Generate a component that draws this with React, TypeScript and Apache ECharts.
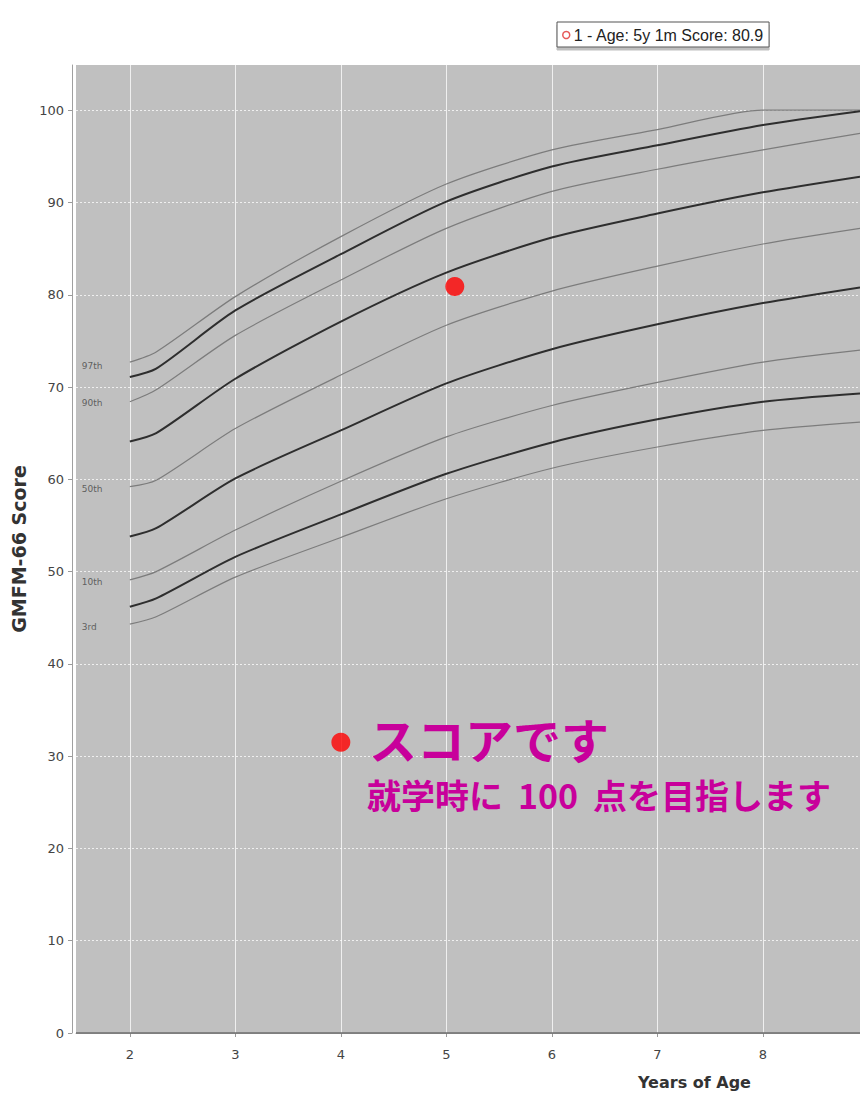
import React, { useEffect, useRef } from "react";
import * as echarts from "echarts";

// Age (years) at which the reference curves were read
const ages = [2, 2.25, 3, 4, 5, 6, 7, 8, 8.92];

// Reference curves (thin = labelled percentiles, bold = intermediate curves)
const curve97 = [72.7, 73.8, 79.8, 86.3, 92.0, 95.7, 97.9, 100.0, 100.0];
const curveB = [71.1, 72.0, 78.3, 84.4, 90.1, 93.9, 96.2, 98.4, 99.9];
const curve90 = [68.4, 69.7, 75.6, 81.6, 87.2, 91.2, 93.6, 95.7, 97.5];
const curveD = [64.1, 65.0, 70.9, 77.1, 82.4, 86.2, 88.8, 91.1, 92.8];
const curve50 = [59.2, 59.9, 65.5, 71.3, 76.7, 80.4, 83.1, 85.5, 87.2];
const curveF = [53.8, 54.7, 60.1, 65.3, 70.4, 74.1, 76.8, 79.1, 80.8];
const curve10 = [49.1, 50.0, 54.5, 59.8, 64.6, 68.0, 70.5, 72.7, 74.0];
const curveH = [46.2, 47.1, 51.6, 56.2, 60.6, 64.0, 66.5, 68.4, 69.3];
const curve3 = [44.3, 45.1, 49.4, 53.7, 57.9, 61.2, 63.5, 65.3, 66.2];

// Percentile labels drawn at the left of the curves
const pctLabels = ["97th", "90th", "50th", "10th", "3rd"];
const pctLabelValues = [72.3, 68.3, 58.9, 48.9, 44.0];
const pctLabelAge = 1.545;

// Child's measurement
const childName = "1 - Age: 5y 1m Score: 80.9";
const childPoint = [5.08, 80.9];

// Annotation
const annotDot = [4, 31.5];
const annotTitle = "スコアです";
const annotSubA = "就学時に";
const annotSubB = "100";
const annotSubC = "点を目指します";

const xAxisName = "Years of Age";
const yAxisName = "GMFM-66 Score";

export default function App() {
  const ref = useRef<HTMLDivElement>(null);

  useEffect(() => {
    if (!ref.current) return;
    const chart = echarts.init(ref.current, undefined, { renderer: "svg" });

    const curves = [
      { name: "97th", v: curve97, bold: false },
      { name: "c2", v: curveB, bold: true },
      { name: "90th", v: curve90, bold: false },
      { name: "c4", v: curveD, bold: true },
      { name: "50th", v: curve50, bold: false },
      { name: "c6", v: curveF, bold: true },
      { name: "10th", v: curve10, bold: false },
      { name: "c8", v: curveH, bold: true },
      { name: "3rd", v: curve3, bold: false },
    ];

    const lineSeries: any[] = curves.map((c, idx) => ({
      type: "line",
      name: c.name,
      data: ages.map((a, i) => [a, c.v[i]]),
      showSymbol: false,
      smooth: 0.25,
      silent: true,
      z: 3,
      lineStyle: c.bold
        ? { color: "#2e2e2e", width: 2 }
        : { color: "#7c7c7c", width: 1.2 },
      markLine:
        idx === 0
          ? {
              silent: true,
              symbol: "none",
              label: { show: false },
              lineStyle: { color: "#6e6e6e", width: 1.5, type: "solid" },
              data: [{ yAxis: 0 }],
            }
          : undefined,
    }));

    const option: any = {
      animation: false,
      backgroundColor: "#ffffff",
      grid: {
        left: 76,
        top: 65,
        right: 0,
        bottom: 64,
        show: true,
        backgroundColor: "#c0c0c0",
        borderWidth: 0,
        containLabel: false,
        outerBoundsMode: "none",
      },
      legend: {
        data: [
          {
            name: childName,
            icon: "circle",
            itemStyle: { color: "#ffffff", borderColor: "#e03030", borderWidth: 1.5 },
          },
        ],
        left: 557,
        top: 22,
        orient: "horizontal",
        padding: [5, 5, 4, 5],
        itemWidth: 7,
        itemHeight: 7,
        itemGap: 4,
        backgroundColor: "#ffffff",
        borderColor: "#555555",
        borderWidth: 1,
        borderRadius: 0,
        shadowColor: "rgba(0,0,0,0.25)",
        shadowOffsetY: 3,
        shadowBlur: 0,
        selectedMode: false,
        textStyle: {
          fontFamily: "Liberation Sans, sans-serif",
          fontSize: 16,
          color: "#222",
          padding: [0, 0, 0, -1],
        },
      },
      xAxis: {
        type: "value",
        min: 1.49,
        max: 8.92,
        minInterval: 1,
        maxInterval: 1,
        offset: 6,
        axisLine: { show: true, lineStyle: { color: "#b4b4b4", width: 1 } },
        axisTick: { show: true, length: 4, lineStyle: { color: "#9a9a9a" } },
        axisLabel: {
          color: "#444",
          fontSize: 13,
          fontFamily: "DejaVu Sans",
          margin: 9,
          showMinLabel: false,
          showMaxLabel: false,
        },
        splitLine: {
          show: true,
          showMinLine: false,
          showMaxLine: false,
          lineStyle: { color: "rgba(255,255,255,0.75)", width: 1, type: "solid" },
        },
      },
      yAxis: {
        type: "value",
        min: 0,
        max: 104.9,
        interval: 10,
        offset: 4,
        name: yAxisName,
        nameLocation: "middle",
        nameGap: 44,
        nameTextStyle: {
          fontFamily: "DejaVu Sans",
          fontWeight: "bold",
          fontSize: 19,
          color: "#333",
        },
        axisLine: { show: true, lineStyle: { color: "#a0a0a0", width: 1 } },
        axisTick: { show: true, length: 4, lineStyle: { color: "#9a9a9a" } },
        axisLabel: {
          color: "#444",
          fontSize: 13,
          fontFamily: "DejaVu Sans",
          margin: 8,
          showMaxLabel: false,
        },
        splitLine: {
          show: true,
          showMinLine: false,
          showMaxLine: false,
          lineStyle: { color: "rgba(255,255,255,0.75)", width: 1, type: [2, 2] },
        },
      },
      series: [
        ...lineSeries,
        {
          type: "scatter",
          name: "pct-labels",
          silent: true,
          symbolSize: 0,
          z: 4,
          data: pctLabels.map((n, i) => ({ name: n, value: [pctLabelAge, pctLabelValues[i]] })),
          label: {
            show: true,
            position: "right",
            distance: 0,
            formatter: "{b}",
            fontSize: 9,
            fontFamily: "DejaVu Sans",
            color: "#444",
          },
        },
        {
          type: "scatter",
          name: childName,
          data: [childPoint],
          symbol: "circle",
          symbolSize: 19,
          itemStyle: { color: "#ff0000" },
          z: 5,
        },
        {
          type: "scatter",
          name: "annotation",
          data: [annotDot],
          symbol: "circle",
          symbolSize: 19,
          itemStyle: { color: "#ff0000" },
          silent: true,
          z: 5,
        },
      ],
      graphic: [
        {
          type: "text",
          left: 369,
          top: 714,
          z: 10,
          style: {
            text: annotTitle,
            fill: "#c8009b",
            font: "bold 48px 'Noto Sans CJK JP'",
          },
        },
        {
          type: "text",
          left: 367,
          top: 777,
          z: 10,
          style: {
            text: "{a|" + annotSubA + "}{d|" + annotSubB + "}{a|" + annotSubC + "}",
            fill: "#c8009b",
            font: "bold 34px 'Noto Sans CJK JP'",
            rich: {
              a: {
                fill: "#c8009b",
                fontSize: 34,
                fontWeight: "bold",
                fontFamily: "Noto Sans CJK JP",
              },
              d: {
                fill: "#c8009b",
                fontSize: 34,
                fontWeight: "bold",
                fontFamily: "Noto Sans CJK JP",
                width: 90,
                align: "center",
              },
            },
          },
        },
        {
          type: "text",
          left: 638,
          top: 1074,
          z: 10,
          style: {
            text: xAxisName,
            fill: "#333",
            font: "bold 16px 'DejaVu Sans'",
          },
        },
      ],
    };

    chart.setOption(option);
    return () => chart.dispose();
  }, []);

  return (
    <div
      ref={ref}
      style={{ position: "absolute", left: 0, top: 0, width: 860, height: 1097, background: "#fff" }}
    />
  );
}
